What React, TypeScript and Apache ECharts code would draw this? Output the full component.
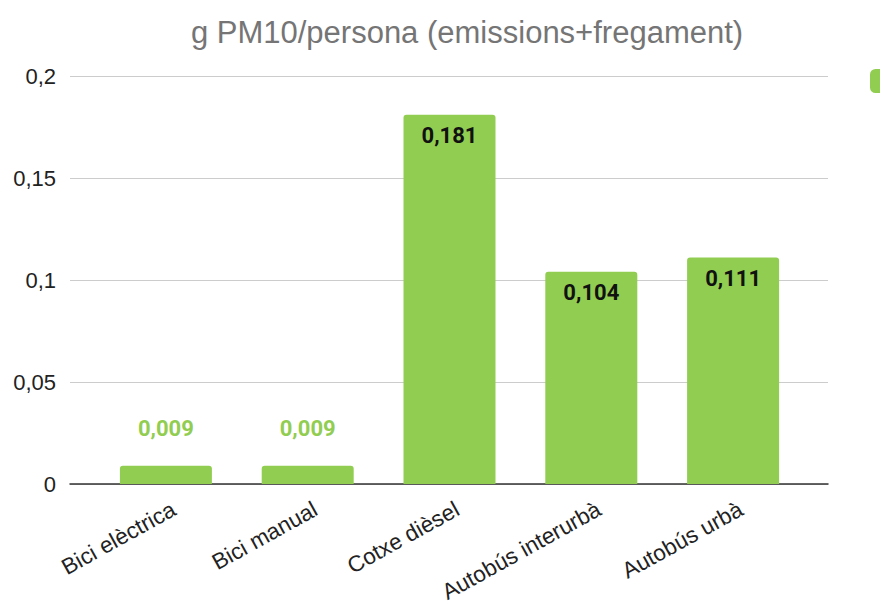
import React, { useEffect, useRef } from "react";
import * as echarts from "echarts";

const categories = ["Bici elèctrica", "Bici manual", "Cotxe dièsel", "Autobús interurbà", "Autobús urbà"];
const values = [0.009, 0.009, 0.181, 0.104, 0.111];
const seriesName = "g PM10/persona (emissions+fregament)";
const titleText = "g PM10/persona (emissions+fregament)";

const GREEN = "#91cd51";

function fmt(v: number) {
  return String(v).replace(".", ",");
}

export default function App() {
  const ref = useRef<HTMLDivElement>(null);
  useEffect(() => {
    if (!ref.current) return;
    const chart = echarts.init(ref.current, undefined, { renderer: "svg" });
    chart.setOption({
      animation: false,
      backgroundColor: "#ffffff",
      title: {
        text: titleText,
        left: 462,
        top: 12,
        textAlign: "center",
        textStyle: { color: "#757575", fontSize: 31, fontWeight: "normal", fontFamily: "Liberation Sans" },
      },
      legend: {
        left: 865,
        top: 64,
        itemWidth: 22,
        itemHeight: 24,
        icon: "roundRect",
        data: [seriesName],
        textStyle: { fontSize: 14 },
      },
      grid: [
        { left: 70, right: 52, top: 76, bottom: 122, containLabel: false, outerBoundsMode: "none" },
        { left: 95, right: 76, top: 76, bottom: 122, containLabel: false, outerBoundsMode: "none" },
      ],
      xAxis: [
        {
          gridIndex: 0,
          type: "category",
          data: [""],
          axisLine: { show: true, lineStyle: { color: "#333333", width: 1.5 } },
          axisTick: { show: false },
          axisLabel: { show: false },
        },
        {
          gridIndex: 1,
          type: "category",
          data: categories,
          axisLine: { show: false },
          axisTick: { show: false },
          axisLabel: {
            rotate: 29,
            color: "#222222",
            fontSize: 22.5,
            fontFamily: "Liberation Sans",
            margin: 28,
            interval: 0,
            padding: [0, -9, 0, 0],
          },
        },
      ],
      yAxis: [
        {
          gridIndex: 0,
          type: "value",
          min: 0,
          max: 0.2,
          interval: 0.05,
          axisLine: { show: false },
          axisTick: { show: false },
          splitLine: { lineStyle: { color: "#cccccc", width: 1.2 } },
          axisLabel: {
            color: "#222222",
            fontSize: 22,
            fontFamily: "Liberation Sans",
            margin: 14,
            formatter: (v: number) => fmt(v),
          },
        },
        {
          gridIndex: 1,
          type: "value",
          min: 0,
          max: 0.2,
          interval: 0.05,
          show: false,
        },
      ],
      series: [
        {
          name: seriesName,
          type: "bar",
          xAxisIndex: 1,
          yAxisIndex: 1,
          barWidth: 92,
          itemStyle: { color: GREEN, borderRadius: [3, 3, 0, 0] },
          data: values.map((v) => {
            const small = v < 0.05;
            return {
              value: v,
              label: small
                ? {
                    show: true,
                    position: "top",
                    distance: 26,
                    color: GREEN,
                    fontSize: 22,
                    fontWeight: "bold",
                    fontFamily: "Roboto",
                    formatter: (p: any) => fmt(p.value),
                  }
                : {
                    show: true,
                    position: "insideTop",
                    distance: 10,
                    color: "#111111",
                    fontSize: 22,
                    fontWeight: "bold",
                    fontFamily: "Roboto",
                    formatter: (p: any) => fmt(p.value),
                  },
            };
          }),
        },
      ],
    });
    return () => chart.dispose();
  }, []);
  return <div ref={ref} style={{ width: 880, height: 606, position: "fixed", left: 0, top: 0 }} />;
}
